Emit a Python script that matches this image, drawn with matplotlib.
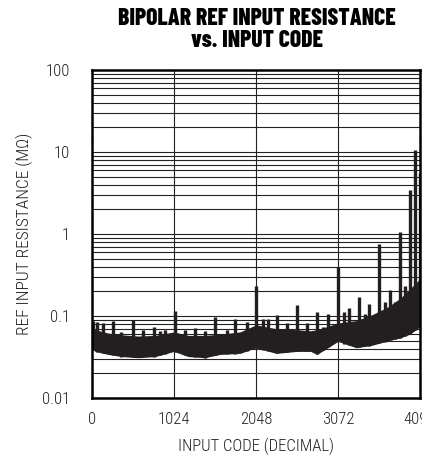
import matplotlib
matplotlib.use('Agg')
import matplotlib.pyplot as plt
import numpy as np

###########################################
# Data
###########################################

# dense band (bottom / top of the black mass), code vs resistance in MOhm
band_codes = [0, 40, 200, 370, 575, 790, 1024, 1200, 1410, 1600, 1850, 2048,
              2300, 2560, 2730, 2810, 3072, 3300, 3500, 3700, 3850, 3950, 4030, 4095]
band_low = [0.040, 0.037, 0.034, 0.032, 0.031, 0.032, 0.037, 0.032, 0.031, 0.034,
            0.035, 0.041, 0.035, 0.037, 0.037, 0.034, 0.049, 0.041, 0.044, 0.050,
            0.054, 0.059, 0.066, 0.074]
band_high = [0.082, 0.068, 0.062, 0.059, 0.057, 0.058, 0.064, 0.058, 0.058, 0.060,
             0.064, 0.078, 0.070, 0.068, 0.066, 0.068, 0.082, 0.088, 0.104, 0.130,
             0.165, 0.205, 0.245, 0.285]

# single-code spikes above the band
spike_codes = [16, 66, 137, 262, 366, 512, 637, 770, 845, 907, 1032, 1157, 1282,
               1407, 1536, 1682, 1786, 1932, 2048, 2140, 2200, 2310, 2435, 2560,
               2685, 2810, 2889, 2948, 3072, 3152, 3214, 3335, 3410, 3464, 3590,
               3660, 3722, 3785, 3847, 3910, 3972, 4035, 4090]
spike_tops = [0.088, 0.085, 0.082, 0.088, 0.064, 0.090, 0.068, 0.074, 0.066, 0.068,
              0.116, 0.068, 0.072, 0.066, 0.098, 0.068, 0.092, 0.085, 0.23, 0.092,
              0.093, 0.103, 0.082, 0.136, 0.082, 0.112, 0.074, 0.105, 0.40, 0.113,
              0.124, 0.172, 0.105, 0.142, 0.75, 0.150, 0.207, 0.150, 1.05, 0.23,
              3.4, 10.5, 5.5]

x_ticks = [0, 1024, 2048, 3072, 4096]
y_ticks = [0.01, 0.1, 1, 10, 100]
y_tick_labels = ['0.01', '0.1', '1', '10', '100']

###########################################
# Plot
###########################################

plt.rcParams['font.family'] = ['Roboto Condensed', 'DejaVu Sans']
ink = '#231f20'

fig = plt.figure(figsize=(4.22, 4.57), dpi=100)
ax = fig.add_axes([92 / 422, 59 / 457, 328 / 422, 328 / 457])

ax.set_yscale('log')
ax.set_xlim(0, 4096)
ax.set_ylim(0.01, 100)

# grid: every decade and sub-decade line, plus the 1024 code lines
for dec in [0.01, 0.1, 1, 10]:
    for m in range(1, 10):
        ax.axhline(dec * m, color='#222222', lw=0.8, zorder=1)
for xv in x_ticks[1:-1]:
    ax.axvline(xv, color='#222222', lw=0.8, zorder=1)

# the data
ax.fill_between(band_codes, band_low, band_high, color=ink, lw=0, zorder=3)
spike_base = np.interp(spike_codes, band_codes, band_low)
ax.vlines(spike_codes, spike_base, spike_tops, color=ink, lw=2.4, zorder=3)

ax.set_xticks(x_ticks)
ax.set_xticklabels([str(v) for v in x_ticks])
ax.set_yticks(y_ticks)
ax.set_yticklabels(y_tick_labels)
ax.minorticks_off()
ax.tick_params(axis='both', length=0, labelsize=12, colors=ink)
ax.tick_params(axis='x', pad=10)
ax.tick_params(axis='y', pad=16)
for lab in ax.get_xticklabels() + ax.get_yticklabels():
    lab.set_fontweight(300)

for sp in ax.spines.values():
    sp.set_linewidth(1.8)
    sp.set_color('black')
    sp.set_zorder(4)

ax.set_xlabel('INPUT CODE (DECIMAL)', fontsize=12, fontweight=300, color=ink, labelpad=8)
ax.set_ylabel('REF INPUT RESISTANCE (M\u03a9)', fontsize=12.5, fontweight=300, color=ink, labelpad=6)

fig.text(257 / 422, 1 - 8 / 457, 'BIPOLAR REF INPUT RESISTANCE\nvs. INPUT CODE',
         ha='center', va='top', fontsize=17, fontweight=800, color='black',
         family=['Barlow Condensed', 'DejaVu Sans'], linespacing=1.0)

fig.savefig('out.png', dpi=100, facecolor='white')
plt.close(fig)
